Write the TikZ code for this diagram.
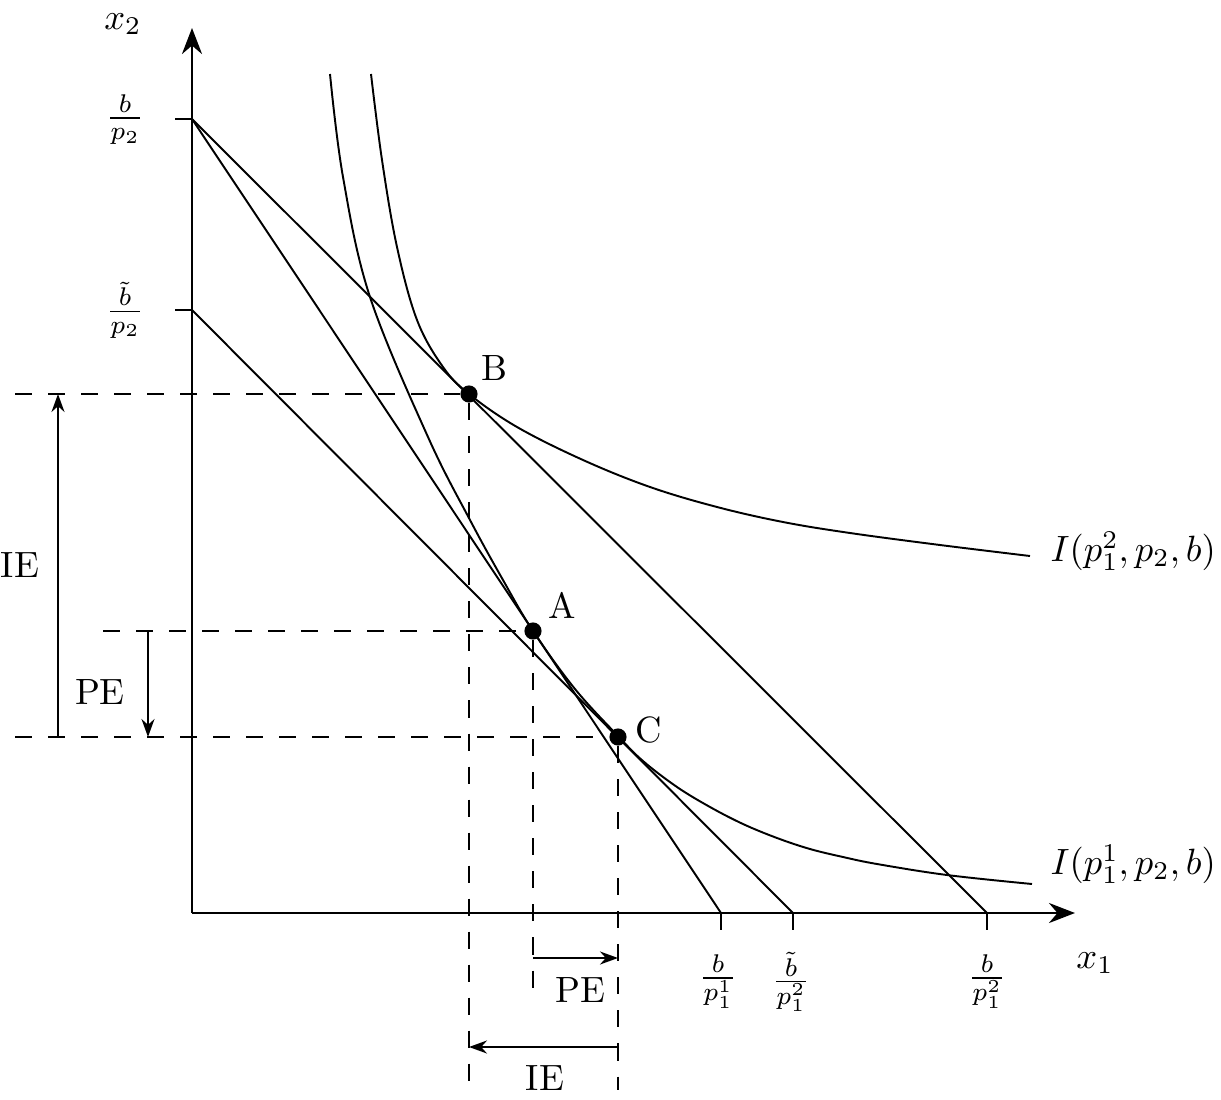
\documentclass[tikz,border=0pt]{standalone}
\usepackage{amsmath}
\usetikzlibrary{positioning,arrows.meta}
\tikzset{>={Stealth[length=1.8mm,width=1.3mm]}, % arrow heads of the effect arrows
every node/.append style={scale=1.04}, % slightly larger text
axis/.style={line width=0.8pt, -{Stealth[length=2.6mm,width=2mm]}}, % the two axes
budget/.style={line width=0.55pt}, % budget lines and ticks
indiff/.style={line width=0.55pt, smooth, tension=0.6}, % indifference curves
guide/.style={line width=0.55pt, dash pattern=on 1.7mm off 1.6mm}, % dashed helper lines
effect/.style={line width=0.55pt, ->}, % income and price effect arrows
dot/.style={circle, fill, inner sep=0pt, minimum size=1.65mm}, % optimal bundles
lbl/.style={inner sep=0pt}, % labels placed next to the dots
}
\begin{document}
\begin{tikzpicture}[x=0.01cm, y=-0.01cm]
\useasboundingbox (0,0) rectangle (1221,1100);

% axes and intercepts
\coordinate (O) at (192,913);
\coordinate (ytop) at (192,28);
\coordinate (xend) at (1075,913);
\coordinate (yb) at (192,119);
\coordinate (ybt) at (192,310);
\coordinate (xb1) at (721,913);
\coordinate (xbt) at (793,913);
\coordinate (xb2) at (987,913);

% optimal bundles
\node[dot] (B) at (469,394) {};
\node[dot] (A) at (533,631) {};
\node[dot] (C) at (618,737) {};

% ends of the dashed lines
\coordinate (gB) at (15,394);
\coordinate (gA) at (103,631);
\coordinate (gC) at (15,737);
\coordinate (vB) at (469,1090);
\coordinate (vA) at (533,1003);
\coordinate (vC) at (618,1090);

\draw[guide] (gB) -- (B) (B) -- (vB);
\draw[guide] (gA) -- (A) (A) -- (vA);
\draw[guide] (gC) -- (C) (C) -- (vC);

\draw[axis] (O) -- (ytop);
\draw[axis] (O) -- (xend);
\foreach \t in {yb,ybt} \draw[budget] (\t) -- ++(-17,0);
\foreach \t in {xb1,xbt,xb2} \draw[budget] (\t) -- ++(0,17);

\draw[budget] (yb) -- (xb1);
\draw[budget] (yb) -- (xb2);
\draw[budget] (ybt) -- (xbt);

\draw[indiff] plot coordinates {(330,74) (343,177) (370,297) (428,437) (470,520)
  (503,580) (533,631) (575,689) (618,736) (643,761) (677,787) (710,807) (743,824)
  (777,838) (810,849) (843,857) (877,864) (947,875) (1032,884)};
\draw[indiff] plot coordinates {(371,74) (382,160) (397,247) (417,320) (443,367)
  (469,394) (517,427) (583,460) (650,487) (717,507) (783,522) (850,533) (940,545)
  (1030,556)};

\node[lbl, above right=0.6mm and 0.5mm of B] (Blab) {B};
\node[lbl, above right=0.5mm and 0.8mm of A] (Alab) {A};
\node[lbl, right=0.7mm of C, yshift=0.7mm] (Clab) {C};

% effect arrows
\coordinate (ieB) at (58,394);
\coordinate (ieC) at (58,737);
\coordinate (peA) at (148,631);
\coordinate (peC) at (148,737);
\coordinate (peh1) at (533,958);
\coordinate (peh2) at (618,958);
\coordinate (ieh1) at (618,1047);
\coordinate (ieh2) at (469,1047);
\draw[effect] (ieC) -- (ieB);
\draw[effect] (peA) -- (peC);
\draw[effect] (peh1) -- (peh2);
\draw[effect] (ieh1) -- (ieh2);
\node (ielab) at (20,565) {IE};
\node (pelab) at (100,692) {PE};
\node (pehlab) at (580,990) {PE};
\node (iehlab) at (545,1078) {IE};

% axis labels
\node (x2lab) at (123,24) {$x_2$};
\node (x1lab) at (1095,963) {$x_1$};
\node (yblab) at (125,120) {$\frac{b}{p_2}$};
\node (ybtlab) at (125,310) {$\frac{\tilde b}{p_2}$};
\node (xb1lab) at (718,982) {$\frac{b}{p_1^1}$};
\node (xbtlab) at (791,982) {$\frac{\tilde b}{p_1^2}$};
\node (xb2lab) at (987,982) {$\frac{b}{p_1^2}$};
\node[lbl, anchor=west] (I2lab) at (1050,551) {$I(p_1^2,p_2,b)$};
\node[lbl, anchor=west] (I1lab) at (1050,864) {$I(p_1^1,p_2,b)$};
\end{tikzpicture}
\end{document}
